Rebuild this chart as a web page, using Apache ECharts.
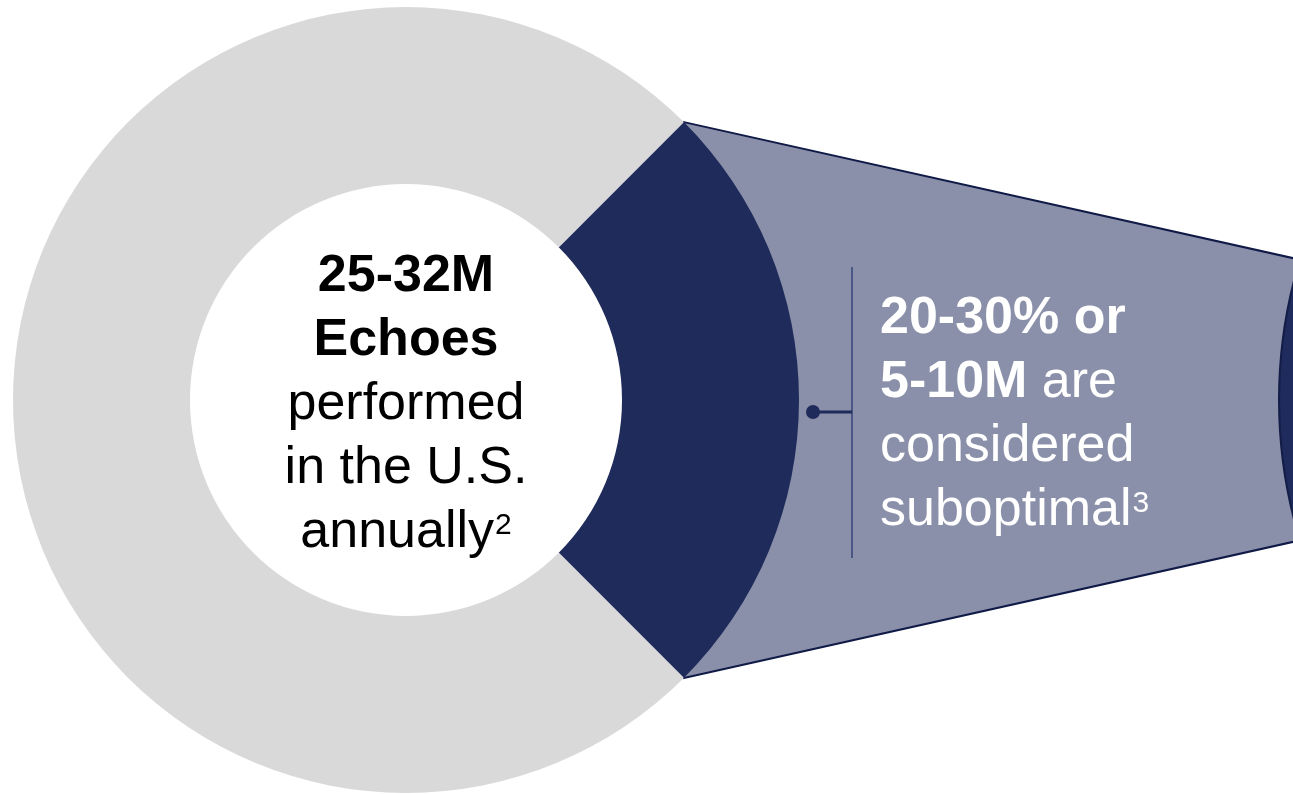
<!DOCTYPE html>
<html>
<head>
<meta charset="utf-8">
<title>Echoes performed in the U.S.</title>
<script src="https://cdn.jsdelivr.net/npm/echarts@6/dist/echarts.min.js"></script>
<style>
  html, body { margin: 0; padding: 0; background: #ffffff; }
  #chart { width: 1293px; height: 794px; }
</style>
</head>
<body>
<div id="chart"></div>
<script>
// Share of annual echoes: suboptimal vs. the rest
const categories = ['Suboptimal', 'Other'];
const shareValues = [25, 75];

// Text inside the donut
const centerBold = ['25-32M', 'Echoes'];
const centerPlain = ['performed', 'in the U.S.', 'annually'];
const centerNote = '2';

// Callout text
const calloutBold = ['20-30% or', '5-10M'];
const calloutPlain = [' are', 'considered', 'suboptimal'];
const calloutNote = '3';

// Layout and styling
const CX = 406, CY = 400, R_IN = 216, R_OUT = 393;
const NAVY = '#1F2B5B';
const GREY = '#D9D9D9';
const SLATE = '#8A90A9';
const FONT = '"Liberation Sans", Arial, sans-serif';
const FS = 52, LH = 64;

const total = shareValues.reduce((a, b) => a + b, 0);
const halfSweep = shareValues[0] / total * 180;          // degrees either side of 3 o'clock
const rad = halfSweep * Math.PI / 180;
const cornerTop = [CX + R_OUT * Math.cos(rad), CY - R_OUT * Math.sin(rad)];
const cornerBot = [CX + R_OUT * Math.cos(rad), CY + R_OUT * Math.sin(rad)];

// callout wedge widens toward the detail circle on the right
const slope = 0.2233;
const farX = 1420;
const farTop = [farX, cornerTop[1] + (farX - cornerTop[0]) * slope];
const farBot = [farX, cornerBot[1] - (farX - cornerBot[0]) * slope];

const richBase = (color) => ({
  b:   { fontFamily: FONT, fontWeight: 'bold',   fontSize: FS, lineHeight: LH, fill: color },
  r:   { fontFamily: FONT, fontWeight: 'normal', fontSize: FS, lineHeight: LH, fill: color },
  // footnote marks sit raised against the top of the line
  sup: { fontFamily: FONT, fontWeight: 'normal', fontSize: 30, lineHeight: 33, fill: color, verticalAlign: 'top', padding: [10, 0, 0, 1] }
});

const centerText = [
  ...centerBold.map(t => `{b|${t}}`),
  `{r|${centerPlain[0]}}`,
  `{r|${centerPlain[1]}}`,
  `{r|${centerPlain[2]}}{sup|${centerNote}}`
].join('\n');

const calloutText = [
  `{b|${calloutBold[0]}}`,
  `{b|${calloutBold[1]}}{r|${calloutPlain[0]}}`,
  `{r|${calloutPlain[1]}}`,
  `{r|${calloutPlain[2]}}{sup|${calloutNote}}`
].join('\n');

const chart = echarts.init(document.getElementById('chart'), null, { renderer: 'canvas', width: 1293, height: 794 });

chart.setOption({
  animation: false,
  backgroundColor: '#ffffff',
  series: [{
    type: 'pie',
    z: 2,
    silent: true,
    center: [CX, CY],
    radius: [R_IN, R_OUT],
    startAngle: halfSweep,
    clockwise: true,
    avoidLabelOverlap: false,
    label: { show: false },
    labelLine: { show: false },
    emphasis: { disabled: true },
    itemStyle: { borderWidth: 0 },
    data: categories.map((name, i) => ({
      name,
      value: shareValues[i],
      itemStyle: { color: i === 0 ? NAVY : GREY }
    }))
  }],
  graphic: {
    elements: [
      {
        type: 'polygon', z: 0, silent: true,
        shape: { points: [cornerTop, farTop, farBot, cornerBot] },
        style: { fill: SLATE, stroke: '#101A47', lineWidth: 2 }
      },
      {
        type: 'circle', z: 1, silent: true,
        shape: { cx: 1759, cy: 400, r: 480 },
        style: { fill: '#1F2B5C', stroke: '#131D48', lineWidth: 2 }
      },
      {
        type: 'line', z: 5, silent: true,
        shape: { x1: 852, y1: 267, x2: 852, y2: 558 },
        style: { stroke: '#34457A', lineWidth: 1.5 }
      },
      {
        type: 'line', z: 5, silent: true,
        shape: { x1: 813, y1: 412, x2: 852, y2: 412 },
        style: { stroke: NAVY, lineWidth: 3 }
      },
      {
        type: 'circle', z: 5, silent: true,
        shape: { cx: 813, cy: 412, r: 7 },
        style: { fill: NAVY }
      },
      {
        type: 'text', z: 10, silent: true,
        x: CX, y: 245,
        style: {
          text: centerText,
          align: 'center',
          verticalAlign: 'top',
          rich: richBase('#000000')
        }
      },
      {
        type: 'text', z: 10, silent: true,
        x: 880, y: 287,
        style: {
          text: calloutText,
          align: 'left',
          verticalAlign: 'top',
          rich: richBase('#FFFFFF')
        }
      }
    ]
  }
});
</script>
</body>
</html>
